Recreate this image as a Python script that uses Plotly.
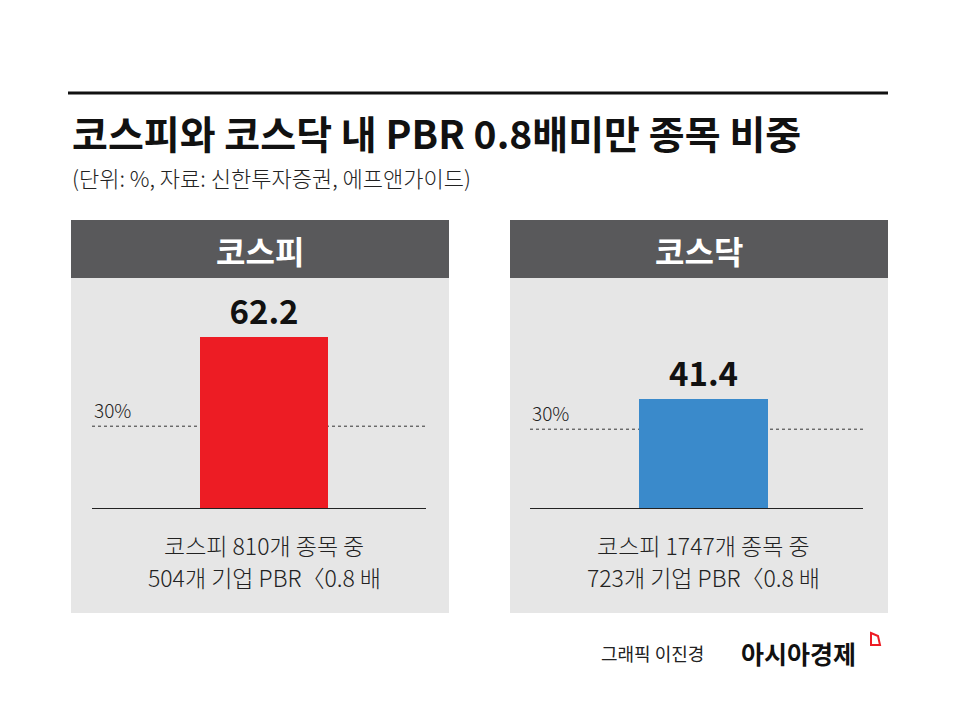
import plotly.graph_objects as go

W, H = 955, 715
FONT = "Noto Sans CJK KR"

# ---- data ----
markets = ["코스피", "코스닥"]
shares = [62.2, 41.4]
threshold = 30
threshold_label = "30%"
caption_line1 = ["코스피 810개 종목 중", "코스피 1747개 종목 중"]
caption_line2 = ["504개 기업 PBR〈0.8 배", "723개 기업 PBR〈0.8 배"]
bar_colors = ["#ed1c24", "#3a8acb"]
title = "코스피와 코스닥 내 PBR 0.8배미만 종목 비중"
subtitle = "(단위: %, 자료: 신한투자증권, 에프앤가이드)"

def px(x):
    return x / W

def py(y):
    return 1 - y / H

fig = go.Figure()

# panel geometry (pixels)
panels = [
    dict(x0=71, x1=449, ax0=92, ax1=426, bar_c=264, bar_w=128, k=2.76),
    dict(x0=510, x1=888, ax0=530, ax1=863, bar_c=703.5, bar_w=129, k=2.66),
]
base_y = 509
top_y = 290

shapes = []
annotations = []

# top rule
shapes.append(dict(type="line", xref="paper", yref="paper", x0=px(68), x1=px(888),
                   y0=py(93), y1=py(93), line=dict(color="#111", width=3)))

for i, p in enumerate(panels):
    xa = "x" if i == 0 else "x2"
    ya = "y" if i == 0 else "y2"
    # body and header
    shapes.append(dict(type="rect", xref="paper", yref="paper", x0=px(p["x0"]), x1=px(p["x1"]),
                       y0=py(613), y1=py(278), fillcolor="#e6e6e6", line=dict(width=0), layer="below"))
    shapes.append(dict(type="rect", xref="paper", yref="paper", x0=px(p["x0"]), x1=px(p["x1"]),
                       y0=py(278), y1=py(220), fillcolor="#59595b", line=dict(width=0), layer="below"))
    annotations.append(dict(text=f"<b>{markets[i]}</b>", xref="paper", yref="paper",
                            x=px((p["x0"] + p["x1"]) / 2), y=py(250), showarrow=False,
                            font=dict(family=FONT, size=32, color="white"),
                            xanchor="center", yanchor="middle"))

    fig.add_trace(go.Bar(x=[markets[i]], y=[shares[i]], width=1,
                         marker=dict(color=bar_colors[i], line=dict(width=0)),
                         text=[f"<b>{shares[i]}</b>"], textposition="outside",
                         textfont=dict(family=FONT, size=33, color="#111"),
                         cliponaxis=False, showlegend=False, hoverinfo="skip",
                         xaxis=xa, yaxis=ya))

    left_units = (p["bar_c"] - p["ax0"]) / p["bar_w"]
    right_units = (p["ax1"] - p["bar_c"]) / p["bar_w"]
    xkey = "xaxis" if i == 0 else "xaxis2"
    ykey = "yaxis" if i == 0 else "yaxis2"
    fig.update_layout(**{
        xkey: dict(domain=[px(p["ax0"]), px(p["ax1"])], range=[-left_units, right_units],
                   showticklabels=False, showgrid=False, zeroline=False, showline=False,
                   anchor=ya, fixedrange=True),
        ykey: dict(domain=[py(base_y), py(top_y)], range=[0, (base_y - top_y) / p["k"]],
                   showticklabels=False, showgrid=False, zeroline=False, showline=False,
                   anchor=xa, fixedrange=True),
    })

    # threshold dashed line
    shapes.append(dict(type="line", xref=f"{xa} domain", yref=ya, x0=0, x1=1,
                       y0=threshold, y1=threshold, layer="below",
                       line=dict(color="#333", width=1, dash="3px,3px")))
    annotations.append(dict(text=threshold_label, xref=f"{xa} domain", yref=ya, x=0, y=threshold,
                            xanchor="left", yanchor="bottom", yshift=1, showarrow=False,
                            font=dict(family=FONT, size=19, color="#222", weight=300)))
    # baseline
    shapes.append(dict(type="line", xref=f"{xa} domain", yref=ya, x0=0, x1=1, y0=0, y1=0,
                       layer="above", line=dict(color="#222", width=2)))
    # caption (two lines)
    for line_text, yy in ((caption_line1[i], 545), (caption_line2[i], 577)):
        annotations.append(dict(text=line_text, xref="paper", yref="paper",
                                x=px(p["bar_c"]), y=py(yy), xanchor="center", yanchor="middle",
                                showarrow=False, align="center",
                                font=dict(family=FONT, size=23, color="#222", weight=300)))

# title and subtitle
annotations.append(dict(text=f"<b>{title}</b>", xref="paper", yref="paper", x=px(70), y=py(132),
                        xanchor="left", yanchor="middle", showarrow=False,
                        font=dict(family=FONT, size=39, color="#111")))
annotations.append(dict(text=subtitle, xref="paper", yref="paper", x=px(70), y=py(177),
                        xanchor="left", yanchor="middle", showarrow=False,
                        font=dict(family=FONT, size=22, color="#222", weight=300)))

# footer
annotations.append(dict(text="그래픽 이진경", xref="paper", yref="paper", x=px(706), y=py(653),
                        xanchor="right", yanchor="middle", showarrow=False,
                        font=dict(family=FONT, size=18, color="#222")))
annotations.append(dict(text="<b>아시아경제</b>", xref="paper", yref="paper", x=px(739), y=py(653),
                        xanchor="left", yanchor="middle", showarrow=False,
                        font=dict(family=FONT, size=25, color="#111")))
# small logo mark
shapes.append(dict(type="path", xref="paper", yref="paper",
                   path=f"M {px(871)} {py(633)} L {px(878)} {py(636)} L {px(880)} {py(645)} L {px(871)} {py(645)} Z",
                   line=dict(color="#ed1c24", width=2), fillcolor="rgba(0,0,0,0)"))

fig.update_layout(width=W, height=H, margin=dict(l=0, r=0, t=0, b=0),
                  paper_bgcolor="white", plot_bgcolor="rgba(0,0,0,0)",
                  shapes=shapes, annotations=annotations, bargap=0,
                  font=dict(family=FONT))

fig.write_html("out.html")
